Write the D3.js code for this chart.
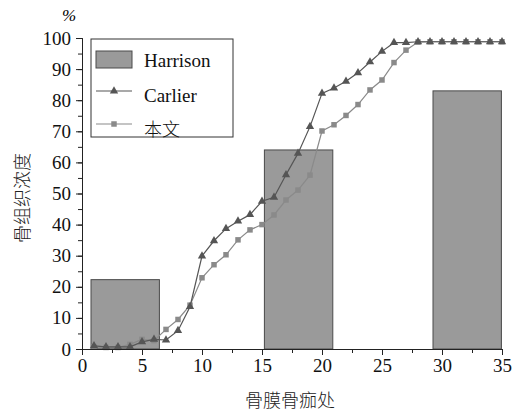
<!DOCTYPE html>
<html>
<head>
<meta charset="utf-8">
<title>骨组织浓度</title>
<script src="https://cdn.jsdelivr.net/npm/d3@7"></script>
<style>
  body { margin: 0; background: #fff; }
  svg text { font-family: "Liberation Serif", "Times New Roman", serif; }
  svg text.cjk { font-family: "Noto Sans CJK SC", sans-serif; font-weight: 300; }
</style>
</head>
<body>
<script>
// data
var positions = d3.range(1, 36);
var carlier = [1.0, 0.7, 0.7, 0.7, 2.3, 3.1, 2.9, 5.9, 13.6, 29.9,
               34.8, 38.7, 41.1, 43.2, 47.5, 48.8, 56.0, 62.9, 71.5, 82.2,
               83.9, 86.1, 88.8, 92.3, 95.7, 98.5, 98.5, 98.8, 98.8, 98.8,
               98.8, 98.8, 98.8, 98.8, 98.8];
var benwen = [0.7, 0.5, 0.5, 1.5, 3.1, 2.7, 6.3, 9.5, 14.1, 22.9,
              27.1, 30.3, 35.1, 38.3, 40.0, 43.1, 47.9, 51.1, 55.9, 70.1,
              72.1, 75.1, 78.6, 83.3, 86.5, 92.1, 96.1, 98.7, 98.8, 98.8,
              98.8, 98.8, 98.8, 98.8, 98.8];
var harrisonX = [3.6, 18.05, 32.1];
var harrisonValue = [22.3, 64.0, 83.0];
var harrisonWidth = 5.7;
var xTicks = [0, 5, 10, 15, 20, 25, 30, 35];
var yTicks = [0, 10, 20, 30, 40, 50, 60, 70, 80, 90, 100];
var legendNames = ["Harrison", "Carlier", "本文"];

var width = 515, height = 412;
var x = d3.scaleLinear().domain([0, 35]).range([82, 502]);
var y = d3.scaleLinear().domain([0, 100]).range([349, 38]);
var serif = "Liberation Serif, Times New Roman, serif";

var svg = d3.select("body").append("svg")
    .attr("width", width).attr("height", height);

// bars
svg.selectAll("rect.bar")
    .data(harrisonX)
  .enter().append("rect")
    .attr("class", "bar")
    .attr("x", function(d) { return x(d - harrisonWidth / 2); })
    .attr("width", function(d) { return x(harrisonWidth) - x(0); })
    .attr("y", function(d, i) { return y(harrisonValue[i]); })
    .attr("height", function(d, i) { return y(0) - y(harrisonValue[i]); })
    .attr("fill", "#9a9a9a")
    .attr("stroke", "#4a4a4a")
    .attr("stroke-width", 1);

var line = d3.line()
    .x(function(d, i) { return x(positions[i]); })
    .y(function(d) { return y(d); });

var series = [
  { values: benwen, color: "#8a8a8a", symbol: d3.symbolSquare, size: 30 },
  { values: carlier, color: "#555555", symbol: d3.symbolTriangle, size: 30 }
];

series.forEach(function(s) {
  svg.append("path")
      .attr("d", line(s.values))
      .attr("fill", "none")
      .attr("stroke", s.color)
      .attr("stroke-width", 1.2);
  svg.selectAll(null)
      .data(s.values)
    .enter().append("path")
      .attr("transform", function(d, i) { return "translate(" + x(positions[i]) + "," + y(d) + ")"; })
      .attr("d", d3.symbol().type(s.symbol).size(s.size))
      .attr("fill", s.color);
});

// axes
var xAxis = svg.append("g")
    .attr("transform", "translate(0," + y(0) + ")")
    .call(d3.axisBottom(x).tickValues(d3.range(0, 35.1, 2.5)).tickSize(4).tickFormat(""));
xAxis.append("g").call(d3.axisBottom(x).tickValues(xTicks).tickSize(6).tickPadding(4));
var yAxis = svg.append("g")
    .attr("transform", "translate(" + x(0) + ",0)")
    .call(d3.axisLeft(y).tickValues(d3.range(0, 100.1, 5)).tickSize(4).tickFormat(""));
yAxis.append("g").call(d3.axisLeft(y).tickValues(yTicks).tickSize(6).tickPadding(5));

svg.selectAll("g").attr("font-family", serif).attr("font-size", 19);
svg.selectAll(".domain").attr("stroke", "#222");
svg.selectAll(".tick line").attr("stroke", "#222");
svg.selectAll(".tick text")
    .attr("fill", "#111")
    .attr("font-family", serif)
    .style("font-family", serif)
    .style("font-size", "19px");

svg.append("text")
    .attr("x", 69).attr("y", 21)
    .attr("text-anchor", "middle")
    .attr("font-family", serif)
    .style("font-style", "italic")
    .style("font-size", "17px")
    .text("%");

svg.append("text")
    .attr("class", "cjk")
    .attr("transform", "translate(29,198) rotate(-90)")
    .attr("text-anchor", "middle")
    .style("font-size", "18px")
    .attr("fill", "#222")
    .text("骨组织浓度");

svg.append("text")
    .attr("class", "cjk")
    .attr("x", 290).attr("y", 407)
    .attr("text-anchor", "middle")
    .style("font-size", "18px")
    .attr("fill", "#222")
    .text("骨膜骨痂处");

// legend
var legend = svg.append("g");
legend.append("rect")
    .attr("x", 91).attr("y", 39).attr("width", 142).attr("height", 98)
    .attr("fill", "#fff").attr("stroke", "#333");
legend.append("rect")
    .attr("x", 96).attr("y", 51).attr("width", 36).attr("height", 17)
    .attr("fill", "#9a9a9a").attr("stroke", "#4a4a4a");
var legendRows = [
  { color: "#555555", symbol: d3.symbolTriangle, cy: 91 },
  { color: "#8a8a8a", symbol: d3.symbolSquare, cy: 124 }
];
legendRows.forEach(function(r) {
  legend.append("line")
      .attr("x1", 96).attr("x2", 132).attr("y1", r.cy).attr("y2", r.cy)
      .attr("stroke", r.color).attr("stroke-width", 1.2);
  legend.append("path")
      .attr("transform", "translate(114," + r.cy + ")")
      .attr("d", d3.symbol().type(r.symbol).size(30))
      .attr("fill", r.color);
});
legend.selectAll("text.lab")
    .data(legendNames)
  .enter().append("text")
    .attr("class", function(d, i) { return i === 2 ? "lab cjk" : "lab"; })
    .attr("x", 144)
    .attr("y", function(d, i) { return 60 + i * 35; })
    .attr("dy", "0.35em")
    .style("font-size", function(d, i) { return i === 2 ? "18px" : "19px"; })
    .attr("fill", "#111")
    .text(function(d) { return d; });
</script>
</body>
</html>
